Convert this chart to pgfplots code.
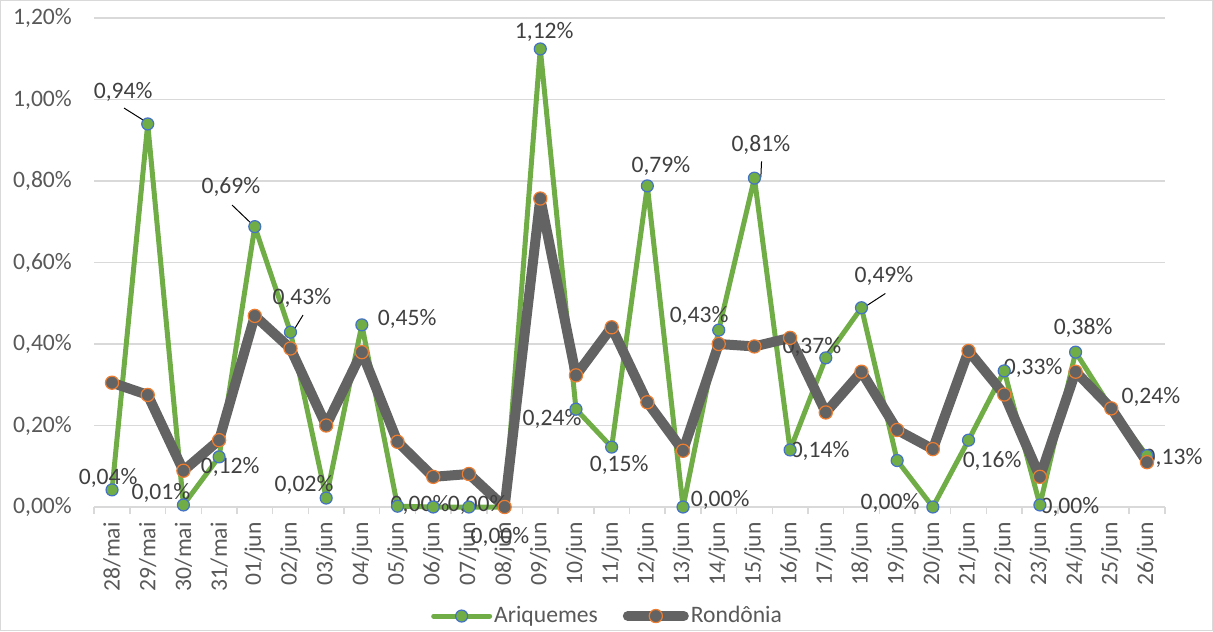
\documentclass[border=0pt]{standalone}
\usepackage{pgfplots}
\pgfplotsset{compat=1.18}
\usepackage{fontspec}
\setmainfont{Carlito}
\definecolor{cgreen}{HTML}{70AD47}
\definecolor{cblue}{HTML}{4472C4}
\definecolor{cgray}{HTML}{636363}
\definecolor{corange}{HTML}{ED7D31}
\definecolor{cgrid}{HTML}{D9D9D9}
\definecolor{ctext}{HTML}{404040}
\definecolor{ctick}{HTML}{595959}
\begin{document}
\begin{tikzpicture}
\useasboundingbox (-47.1pt,-62pt) rectangle (559.4pt,253.5pt);
\draw[cgrid, line width=0.7pt] (-46.75pt,-61.65pt) rectangle (559.05pt,253.15pt);
\begin{axis}[
  at={(0pt,0pt)}, anchor=south west,
  width=535.3pt, height=244.5pt, scale only axis,
  xmin=-0.5, xmax=29.5, ymin=0, ymax=1.2,
  clip=false,
  axis x line*=bottom, axis y line*=left,
  y axis line style={draw=none},
  x axis line style={cgrid, line width=0.75pt},
  ytick={0,0.2,0.4,0.6,0.8,1.0,1.2},
  yticklabels={{0,00\%},{0,20\%},{0,40\%},{0,60\%},{0,80\%},{1,00\%},{1,20\%}},
  ytick style={draw=none},
  xtick={0,...,29},
  xticklabels={28/mai,29/mai,30/mai,31/mai,01/jun,02/jun,03/jun,04/jun,05/jun,06/jun,07/jun,08/jun,09/jun,10/jun,11/jun,12/jun,13/jun,14/jun,15/jun,16/jun,17/jun,18/jun,19/jun,20/jun,21/jun,22/jun,23/jun,24/jun,25/jun,26/jun},
  major tick length=0pt,
  minor xtick={-0.5,0.5,...,29.5},
  minor tick length=3.5pt,
  tick align=outside,
  minor tick style={cgrid, line width=0.75pt},
  ymajorgrids,
  major grid style={cgrid, line width=0.75pt},
  ticklabel style={font=\fontsize{11.8}{14}\selectfont, text=ctick, inner sep=0pt},
  xticklabel style={rotate=90, anchor=east},
  yticklabel style={anchor=east},
  xticklabel shift=7.5pt,
  yticklabel shift=11pt,
  legend style={at={(0.4795,-0.223)}, anchor=center, draw=none, fill=none,
    legend columns=2, font=\fontsize{11.8}{14}\selectfont, text=ctick,
    nodes={inner sep=1pt},
    /tikz/every even column/.append style={column sep=11.5pt}},
  legend image code/.code={\draw[mark repeat=2,mark phase=2,line cap=round,#1] plot coordinates {(0pt,0pt) (14pt,0pt) (28pt,0pt)};},
]
\addplot[cgreen, line width=2.5pt, line join=round, mark=*, mark size=3pt,
  mark options={fill=cgreen, draw=cblue, line width=0.6pt}] coordinates {
(0,0.042) (1,0.940) (2,0.005) (3,0.123) (4,0.688) (5,0.429) (6,0.022) (7,0.447)
(8,0.002) (9,0.000) (10,0.000) (11,0.000) (12,1.124) (13,0.240) (14,0.147) (15,0.788)
(16,0.000) (17,0.434) (18,0.807) (19,0.140) (20,0.366) (21,0.489) (22,0.114) (23,0.000)
(24,0.164) (25,0.334) (26,0.005) (27,0.380) (28,0.242) (29,0.126)};
\addlegendentry{Ariquemes}
\addplot[cgray, line width=5pt, line join=round, mark=*, mark size=3.3pt,
  mark options={fill=cgray, draw=corange, line width=0.6pt}] coordinates {
(0,0.305) (1,0.275) (2,0.089) (3,0.164) (4,0.469) (5,0.389) (6,0.200) (7,0.380)
(8,0.160) (9,0.074) (10,0.081) (11,0.000) (12,0.757) (13,0.323) (14,0.441) (15,0.257)
(16,0.138) (17,0.400) (18,0.394) (19,0.415) (20,0.232) (21,0.332) (22,0.189) (23,0.142)
(24,0.383) (25,0.276) (26,0.074) (27,0.332) (28,0.242) (29,0.110)};
\addlegendentry{Rondônia}
\tikzset{lbl/.style={font=\fontsize{11.8}{14}\selectfont, text=ctext, inner sep=0pt, anchor=center}}
\node[lbl] at (axis cs:-0.11,0.071) {0,04\%};
\node[lbl] at (axis cs:0.31,1.018) {0,94\%};
\node[lbl] at (axis cs:1.37,0.034) {0,01\%};
\node[lbl] at (axis cs:3.31,0.098) {0,12\%};
\node[lbl] at (axis cs:3.33,0.785) {0,69\%};
\node[lbl] at (axis cs:5.32,0.513) {0,43\%};
\node[lbl] at (axis cs:5.38,0.054) {0,02\%};
\node[lbl] at (axis cs:8.27,0.461) {0,45\%};
\node[lbl] at (axis cs:8.63,0.005) {0,00\%};
\node[lbl] at (axis cs:10.23,0.005) {0,00\%};
\node[lbl] at (axis cs:10.87,-0.074) {0,00\%};
\node[lbl] at (axis cs:12.11,1.166) {1,12\%};
\node[lbl] at (axis cs:12.33,0.216) {0,24\%};
\node[lbl] at (axis cs:14.21,0.103) {0,15\%};
\node[lbl] at (axis cs:15.38,0.837) {0,79\%};
\node[lbl] at (axis cs:17.04,0.017) {0,00\%};
\node[lbl] at (axis cs:16.45,0.469) {0,43\%};
\node[lbl] at (axis cs:18.18,0.888) {0,81\%};
\node[lbl] at (axis cs:19.61,0.393) {0,37\%};
\node[lbl] at (axis cs:19.84,0.137) {0,14\%};
\node[lbl] at (axis cs:21.63,0.567) {0,49\%};
\node[lbl] at (axis cs:21.80,0.009) {0,00\%};
\node[lbl] at (axis cs:24.66,0.113) {0,16\%};
\node[lbl] at (axis cs:25.81,0.341) {0,33\%};
\node[lbl] at (axis cs:26.84,0.000) {0,00\%};
\node[lbl] at (axis cs:27.21,0.439) {0,38\%};
\node[lbl] at (axis cs:29.11,0.270) {0,24\%};
\node[lbl] at (axis cs:29.73,0.121) {0,13\%};
\draw[black, line width=0.5pt] (axis cs:0.336,0.979) -- (axis cs:1.009,0.942);
\draw[black, line width=0.5pt] (axis cs:3.362,0.741) -- (axis cs:4.007,0.687);
\draw[black, line width=0.5pt] (axis cs:5.352,0.471) -- (axis cs:5.043,0.427);
\draw[black, line width=0.5pt] (axis cs:18.20,0.848) -- (axis cs:18.18,0.809);
\draw[black, line width=0.5pt] (axis cs:21.67,0.524) -- (axis cs:21.04,0.488);
\end{axis}
\end{tikzpicture}
\end{document}
